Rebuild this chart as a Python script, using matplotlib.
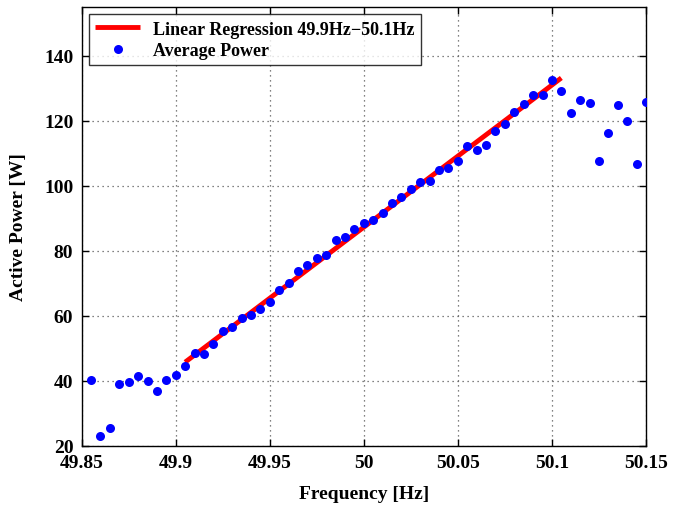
import numpy as np
import matplotlib
matplotlib.use("Agg")
import matplotlib.pyplot as plt

freq = [49.855, 49.860, 49.865, 49.870, 49.875, 49.880, 49.885, 49.890, 49.895, 49.900,
        49.905, 49.910, 49.915, 49.920, 49.925, 49.930, 49.935, 49.940, 49.945, 49.950,
        49.955, 49.960, 49.965, 49.970, 49.975, 49.980, 49.985, 49.990, 49.995, 50.000,
        50.005, 50.010, 50.015, 50.020, 50.025, 50.030, 50.035, 50.040, 50.045, 50.050,
        50.055, 50.060, 50.065, 50.070, 50.075, 50.080, 50.085, 50.090, 50.095, 50.100,
        50.105, 50.110, 50.115, 50.120, 50.125, 50.130, 50.135, 50.140, 50.145, 50.150]
power = [40.3, 23.0, 25.5, 39.1, 39.7, 41.4, 40.0, 37.0, 40.3, 41.9,
         44.7, 48.5, 48.4, 51.3, 55.3, 56.5, 59.3, 60.2, 62.2, 64.1,
         67.8, 70.2, 73.8, 75.7, 77.8, 78.7, 83.2, 84.1, 86.6, 88.7,
         89.4, 91.5, 94.7, 96.6, 98.9, 101.2, 101.4, 104.9, 105.4, 107.7,
         112.2, 111.1, 112.6, 117.0, 118.9, 122.6, 125.1, 127.8, 128.0, 132.6,
         129.2, 122.4, 126.5, 125.6, 107.7, 116.2, 125.0, 120.1, 106.6, 125.9]

fit_range = (49.9, 50.1)
line_range = (49.905, 50.105)
xticks = [49.85, 49.9, 49.95, 50.0, 50.05, 50.1, 50.15]
xticklabels = ["49.85", "49.9", "49.95", "50", "50.05", "50.1", "50.15"]
yticks = [20, 40, 60, 80, 100, 120, 140]

plt.rcParams['font.family'] = ['Liberation Serif', 'DejaVu Serif']
plt.rcParams['font.weight'] = 'bold'

f = np.array(freq)
p = np.array(power)
mask = (f >= fit_range[0] - 1e-9) & (f <= fit_range[1] + 1e-9)
coef = np.polyfit(f[mask], p[mask], 1)
lx = np.array(line_range)
ly = np.polyval(coef, lx)

fig = plt.figure(figsize=(6.75, 5.06), dpi=100)
ax = fig.add_axes([0.121, 0.117, 0.836, 0.867])

ax.plot(lx, ly, color='#ff0000', linewidth=3.5, solid_capstyle='butt',
        label='Linear Regression 49.9Hz\u221250.1Hz', zorder=3)
ax.plot(f, p, 'o', color='#0000ff', markersize=6.5, markeredgewidth=0,
        label='Average Power', zorder=4)

ax.set_xlim(49.85, 50.15)
ax.set_ylim(20, 155)
ax.set_xticks(xticks)
ax.set_xticklabels(xticklabels)
ax.set_yticks(yticks)
ax.grid(True, linestyle=(0, (1, 3)), color='0.35', linewidth=0.9)
ax.tick_params(direction='in', length=5, width=1, top=True, right=True,
               labelsize=14, pad=6)
for lab in ax.get_xticklabels() + ax.get_yticklabels():
    lab.set_fontweight('bold')
for s in ax.spines.values():
    s.set_linewidth(1.0)

ax.set_xlabel('Frequency [Hz]', fontsize=14, fontweight='bold', labelpad=10)
ax.set_ylabel('Active Power [W]', fontsize=14, fontweight='bold', labelpad=12)

leg = ax.legend(loc='upper left', fontsize=13, frameon=True, fancybox=False,
                edgecolor='black', borderpad=0.35, handlelength=2.5,
                labelspacing=0.25, borderaxespad=0.4, handletextpad=0.7)
leg.get_frame().set_linewidth(1.0)
for t in leg.get_texts():
    t.set_fontweight('bold')

fig.savefig('out.png', dpi=100)
